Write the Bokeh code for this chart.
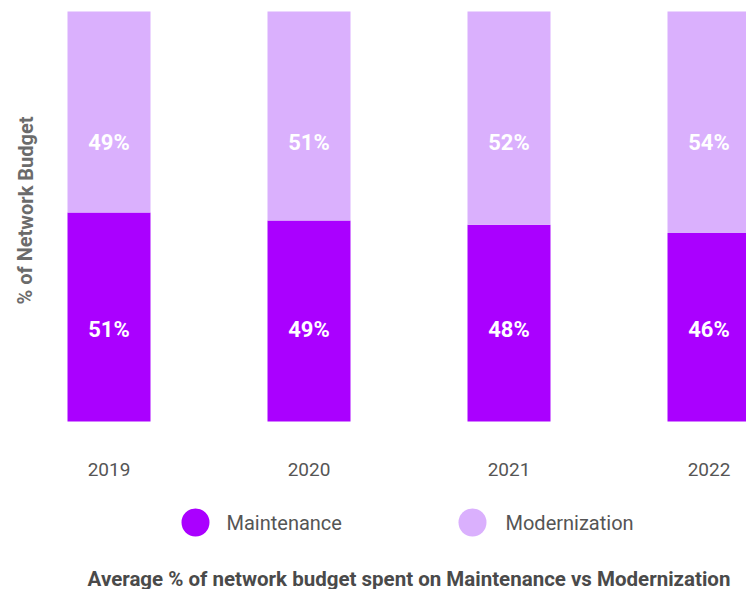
from bokeh.plotting import figure
from bokeh.models import ColumnDataSource, Range1d
from bokeh.core.properties import value
from bokeh.embed import file_html
from bokeh.resources import INLINE

years = [2019, 2020, 2021, 2022]
year_labels = ["2019", "2020", "2021", "2022"]
maintenance = [51, 49, 48, 46]
modernization = [49, 51, 52, 54]
series_names = ["Maintenance", "Modernization"]
colors = ["#AA00FF", "#DAB0FD"]
title_text = "Average % of network budget spent on Maintenance vs Modernization"
ylabel_text = "% of Network Budget"

FONT = "Roboto"
W, H = 746, 589
PX_X = 200.0   # px per year
PX_Y = 4.1     # px per percent
x0 = 2019 - 108.5 / PX_X
y0 = -(H - 421) / PX_Y


def sx(px):
    return x0 + px / PX_X


def sy(py_from_top):
    return y0 + (H - py_from_top) / PX_Y


p = figure(width=W, height=H, output_backend="svg", toolbar_location=None,
           x_range=Range1d(x0, x0 + W / PX_X), y_range=Range1d(y0, y0 + H / PX_Y),
           min_border=0, min_border_left=0, min_border_right=0,
           min_border_top=0, min_border_bottom=0)
p.axis.visible = False
p.grid.visible = False
p.outline_line_color = None
p.background_fill_color = "white"
p.border_fill_color = "white"

bottoms = [0] * len(years)
tops_m = [m for m in maintenance]
tops_n = [m + n for m, n in zip(maintenance, modernization)]
src = ColumnDataSource(dict(x=years, b=bottoms, tm=tops_m, tn=tops_n,
                            lm=[f"{v}%" for v in maintenance],
                            ln=[f"{v}%" for v in modernization],
                            yl=year_labels))
bw = 83 / PX_X
p.vbar(x="x", bottom="b", top="tm", width=bw, source=src, fill_color=colors[0], line_color=None)
p.vbar(x="x", bottom="tm", top="tn", width=bw, source=src, fill_color=colors[1], line_color=None)

# value labels (fixed vertical positions as in the original)
p.text(x="x", y=sy(329), text="lm", source=src, text_align="center", text_baseline="middle",
       text_color="white", text_font=value(FONT), text_font_style="bold", text_font_size="22px")
p.text(x="x", y=sy(142), text="ln", source=src, text_align="center", text_baseline="middle",
       text_color="white", text_font=value(FONT), text_font_style="bold", text_font_size="22px")

# year labels
p.text(x="x", y=sy(469), text="yl", source=src, text_align="center", text_baseline="middle",
       text_color="#555555", text_font=value(FONT), text_font_size="19px")

# y axis label
p.text(x=[sx(25)], y=[sy(210)], text=[ylabel_text], angle=1.5707963,
       text_align="center", text_baseline="middle", text_color="#6b6b6b",
       text_font=value(FONT), text_font_style="bold", text_font_size="20px")

# legend
leg_y = sy(522)
p.scatter(x=[sx(195), sx(472)], y=[leg_y, leg_y], size=28, marker="circle",
          fill_color=colors, line_color=None)
p.text(x=[sx(226), sx(505)], y=[leg_y, leg_y], text=series_names, text_align="left",
       text_baseline="middle", text_color="#555555", text_font=value(FONT), text_font_size="20px")

# bottom title
p.text(x=[sx(408.5)], y=[sy(578)], text=[title_text], text_align="center",
       text_baseline="middle", text_color="#4a4a4a", text_font=value(FONT),
       text_font_style="bold", text_font_size="20.5px")

open("out.html", "w").write(file_html(p, INLINE))
